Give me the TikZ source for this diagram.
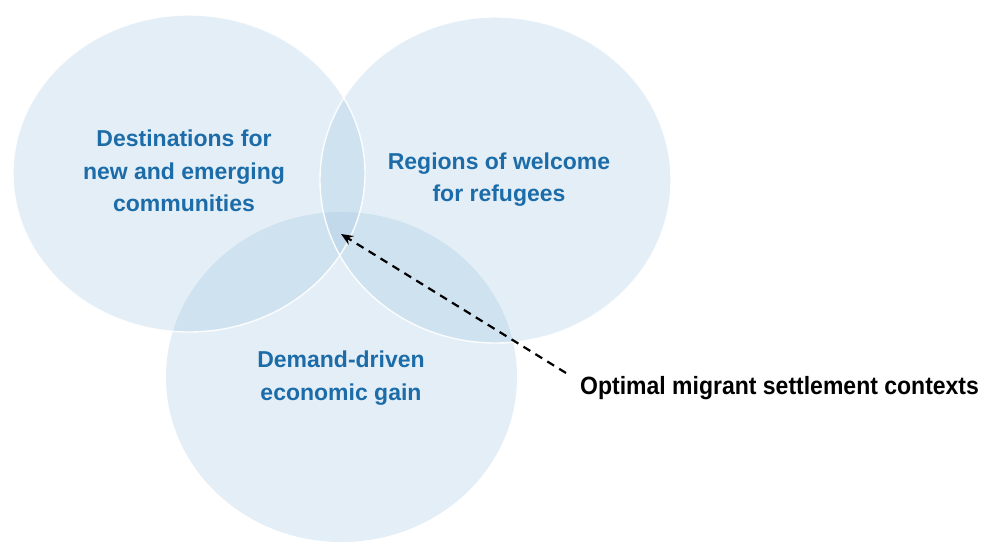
\documentclass[tikz,border=0pt]{standalone}
\usepackage{fontspec}
\setmainfont{Liberation Sans}
\newfontfamily\narrowbold[FakeStretch=0.92]{Liberation Sans Bold}
\usetikzlibrary{arrows.meta}
\definecolor{circfill}{RGB}{159,196,224}
\definecolor{labelblue}{RGB}{27,108,168}
\tikzset{
  venn/.style={fill=circfill, fill opacity=0.29, draw=none},
  rim/.style={draw=white, line width=1.4pt, draw opacity=0.9},
  bluelabel/.style={text=labelblue, font=\bfseries\fontsize{23}{32.5}\selectfont, align=center, inner sep=0pt},
  blacklabel/.style={text=black, font=\narrowbold\fontsize{25}{30}\selectfont, inner sep=0pt},
  pointer/.style={-{Stealth[length=12pt,width=10pt]}, dashed, dash pattern=on 8pt off 6pt, line width=2.2pt, black}
}
\begin{document}
\begin{tikzpicture}[x=1pt,y=-1pt]
\useasboundingbox (0,0) rectangle (983,543);
% circles
\path[venn] (341.5,377) ellipse [x radius=175.5, y radius=165];
\path[venn] (189,173.5) ellipse [x radius=176, y radius=158.5];
\path[venn] (495.5,180) ellipse [x radius=175.5, y radius=163];
\path[rim] (189,173.5) ellipse [x radius=176, y radius=158.5];
\path[rim] (495.5,180) ellipse [x radius=175.5, y radius=163];
% labels
\node[bluelabel] (dest) at (184,171) {Destinations for\\new and emerging\\communities};
\node[bluelabel] (reg) at (499,179.5) {Regions of welcome\\for refugees};
\node[bluelabel] (dem) at (341,378) {Demand-driven\\economic gain};
\node[blacklabel, anchor=west] (opt) at (580,388.5) {Optimal migrant settlement contexts};
% pointer
\coordinate (tri) at (341,234);
\coordinate (tail) at (566,373);
\draw[pointer] (tail) -- (tri);
\end{tikzpicture}
\end{document}
